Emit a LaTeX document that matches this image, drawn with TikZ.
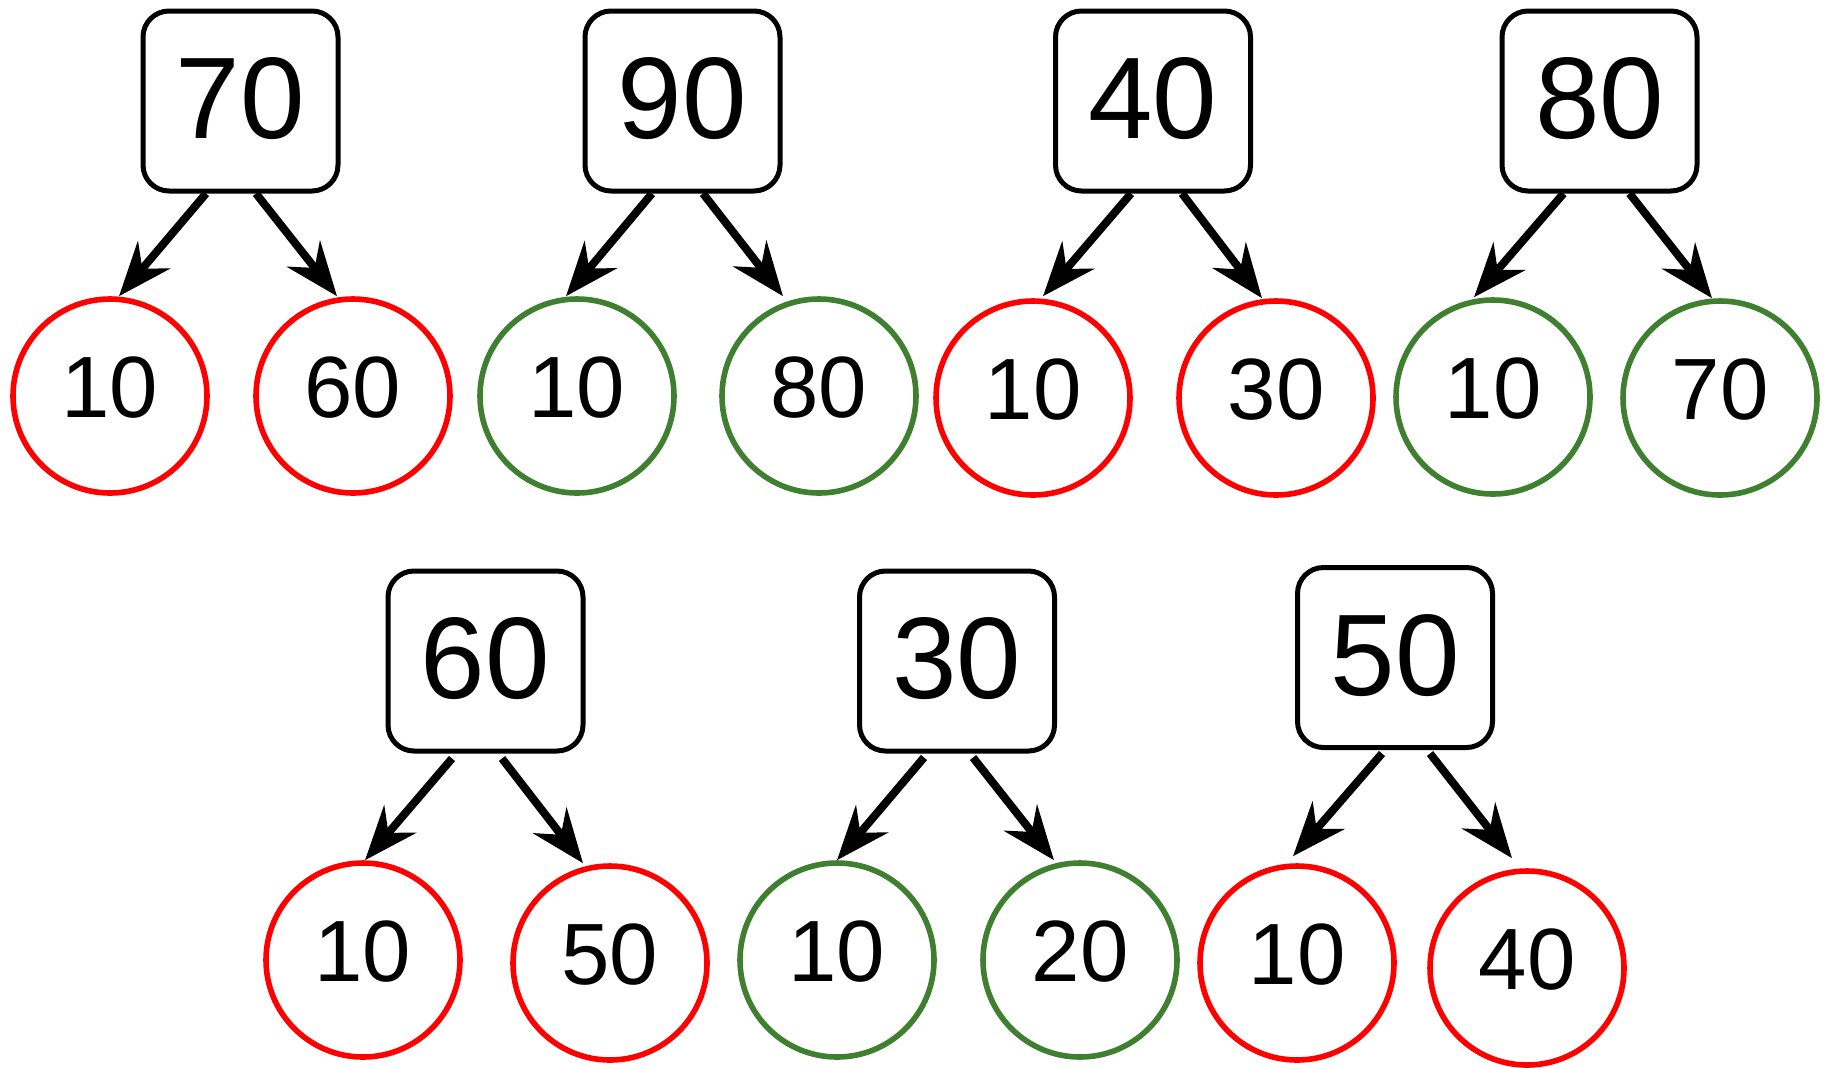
\documentclass[tikz,border=0pt]{standalone}
\usepackage{fontspec}
\setmainfont{Liberation Sans}
\usetikzlibrary{arrows.meta,calc}
\definecolor{cred}{RGB}{255,0,0}
\definecolor{cgreen}{RGB}{62,128,48}
\begin{document}
\begin{tikzpicture}[x=0.5pt,y=-0.5pt,
  keybox/.style={draw=black, line width=2.5pt, rounded corners=13pt, minimum width=97.5pt, minimum height=90pt, inner sep=0pt, font=\fontsize{58}{58}\selectfont, text depth=3pt},
  leaf/.style={circle, draw, line width=2.8pt, minimum size=97pt, inner sep=0pt, font=\fontsize{43.5}{43.5}\selectfont, text depth=9pt},
  redleaf/.style={leaf, draw=cred},
  greenleaf/.style={leaf, draw=cgreen},
  edgearrow/.style={line width=4pt, -{Stealth[length=27pt,width=21pt,inset=9pt]}}]
\useasboundingbox (0,0) rectangle (1835,1067);
% tree 1
\node[keybox] (b1) at (240.5,101) {70};
\node[redleaf] (l1) at (110,396) {10};
\node[redleaf] (r1) at (353,396) {60};
% tree 2
\node[keybox] (b2) at (682.5,101) {90};
\node[greenleaf] (l2) at (577,396) {10};
\node[greenleaf] (r2) at (819,396) {80};
% tree 3
\node[keybox] (b3) at (1153,101) {40};
\node[redleaf] (l3) at (1033,398) {10};
\node[redleaf] (r3) at (1276,398) {30};
% tree 4
\node[keybox] (b4) at (1599.5,101) {80};
\node[greenleaf] (l4) at (1493,397) {10};
\node[greenleaf] (r4) at (1720,398) {70};
% tree 5
\node[keybox] (b5) at (485.5,661) {60};
\node[redleaf] (l5) at (363,960) {10};
\node[redleaf] (r5) at (610,963) {50};
% tree 6
\node[keybox] (b6) at (957,661) {30};
\node[greenleaf] (l6) at (837,960) {10};
\node[greenleaf] (r6) at (1080,960) {20};
% tree 7
\node[keybox] (b7) at (1395,657.5) {50};
\node[redleaf] (l7) at (1297,963) {10};
\node[redleaf] (r7) at (1527,968) {40};
% edges
\draw[edgearrow] ([xshift=-17.25pt]b1.south) -- ([xshift=4.5pt]l1.north);
\draw[edgearrow] ([xshift=7.75pt]b1.south) -- ([xshift=-8pt]r1.north);
\draw[edgearrow] ([xshift=-15.25pt]b2.south) -- ([xshift=-5.5pt]l2.north);
\draw[edgearrow] ([xshift=10.25pt]b2.south) -- ([xshift=-18pt]r2.north);
\draw[edgearrow] ([xshift=-11pt]b3.south) -- ([xshift=5pt,yshift=1pt]l3.north);
\draw[edgearrow] ([xshift=14.5pt]b3.south) -- ([xshift=-7pt]r3.north);
\draw[edgearrow] ([xshift=-18pt]b4.south) -- ([xshift=-9.5pt]l4.north);
\draw[edgearrow] ([xshift=15pt]b4.south) -- ([xshift=-4pt]r4.north);
\draw[edgearrow] ([xshift=-16.75pt,yshift=-2.5pt]b5.south) -- ([xshift=1pt]l5.north);
\draw[edgearrow] ([xshift=8.25pt,yshift=-2.5pt]b5.south) -- ([xshift=-13.5pt]r5.north);
\draw[edgearrow] ([xshift=-16.5pt,yshift=-2pt]b6.south) -- ([xshift=0pt]l6.north);
\draw[edgearrow] ([xshift=8pt,yshift=-2pt]b6.south) -- ([xshift=-13pt]r6.north);
\draw[edgearrow] ([xshift=-6.5pt,yshift=-1.75pt]b7.south) -- ([xshift=-2pt,yshift=3.5pt]l7.north);
\draw[edgearrow] ([xshift=17.5pt,yshift=-1.75pt]b7.south) -- ([xshift=-7.5pt,yshift=5pt]r7.north);
\end{tikzpicture}
\end{document}
